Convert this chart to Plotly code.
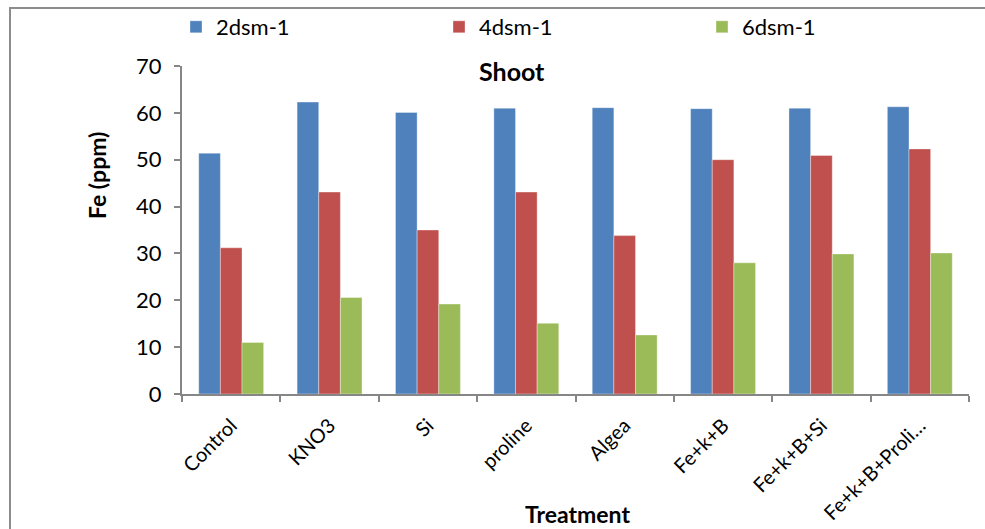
import plotly.graph_objects as go

categories = ["Control", "KNO3", "Si", "proline", "Algea", "Fe+k+B", "Fe+k+B+Si", "Fe+k+B+Proli…"]
series_names = ["2dsm-1", "4dsm-1", "6dsm-1"]
vals_2 = [51.4, 62.3, 60.1, 61.0, 61.1, 60.9, 61.0, 61.3]
vals_4 = [31.2, 43.1, 35.0, 43.1, 33.8, 50.0, 50.9, 52.3]
vals_6 = [11.0, 20.6, 19.2, 15.1, 12.6, 28.0, 29.9, 30.1]
colors = ["#4F81BD", "#C0504D", "#9BBB59"]
y_ticks = [0, 10, 20, 30, 40, 50, 60, 70]

W, H = 985, 529
ml, mr, mt, mb = 182, 16, 66, 135
pw, ph = W - ml - mr, H - mt - mb

def px_x(p):
    return (p - ml) / pw

def px_y(p):
    return (H - mb - p) / ph

FONT = "Lato, Carlito, Calibri, sans-serif"

fig = go.Figure()
for name, vals, c in zip(series_names, [vals_2, vals_4, vals_6], colors):
    fig.add_trace(go.Bar(
        x=categories, y=vals, name=name,
        marker=dict(color=c, line=dict(color="rgba(255,255,255,0.6)", width=0.6)),
    ))

fig.update_layout(
    width=W, height=H,
    margin=dict(l=ml, r=mr, t=mt, b=mb, pad=0, autoexpand=False),
    paper_bgcolor="white", plot_bgcolor="white",
    barmode="group", bargap=0.34, bargroupgap=0,
    font=dict(family=FONT, size=20, color="black"),
    showlegend=True,
    legend=dict(
        orientation="h", x=px_x(176), y=px_y(27), xanchor="left", yanchor="middle",
        entrywidth=218, entrywidthmode="pixels",
        font=dict(family=FONT, size=22, color="black"),
        traceorder="normal", bgcolor="rgba(0,0,0,0)",
    ),
    xaxis=dict(
        type="category", showline=True, linecolor="#868686", linewidth=2,
        ticks="outside", tickson="boundaries", ticklen=6, tickcolor="#868686", tickwidth=2,
        tickangle=-45, tickfont=dict(family=FONT, size=20), ticklabelstandoff=10,
        showgrid=False, zeroline=False, automargin=False,
    ),
    yaxis=dict(
        range=[0, 70], tickvals=y_ticks, showline=True, linecolor="#868686", linewidth=2,
        ticks="outside", ticklen=6, tickcolor="#868686", tickwidth=2,
        tickfont=dict(family=FONT, size=22), ticklabelstandoff=8,
        showgrid=False, zeroline=False, automargin=False,
    ),
)

fig.add_annotation(text="<b>Shoot</b>", xref="paper", yref="paper",
                   x=px_x(512), y=px_y(71), xanchor="center", yanchor="middle",
                   showarrow=False, font=dict(family=FONT, size=25, color="black"))
fig.add_annotation(text="<b>Fe (ppm)</b>", xref="paper", yref="paper",
                   x=px_x(97), y=px_y(176), xanchor="center", yanchor="middle",
                   textangle=-90, showarrow=False,
                   font=dict(family=FONT, size=23, color="black"))
fig.add_annotation(text="<b>Treatment</b>", xref="paper", yref="paper",
                   x=px_x(577), y=px_y(514), xanchor="center", yanchor="middle",
                   showarrow=False, font=dict(family=FONT, size=23, color="black"))

fig.add_shape(type="rect", xref="paper", yref="paper",
              x0=px_x(10), y0=px_y(560), x1=px_x(1000), y1=px_y(8),
              line=dict(color="#8c8c8c", width=2), fillcolor="rgba(0,0,0,0)", layer="below")

fig.write_html("out.html")
